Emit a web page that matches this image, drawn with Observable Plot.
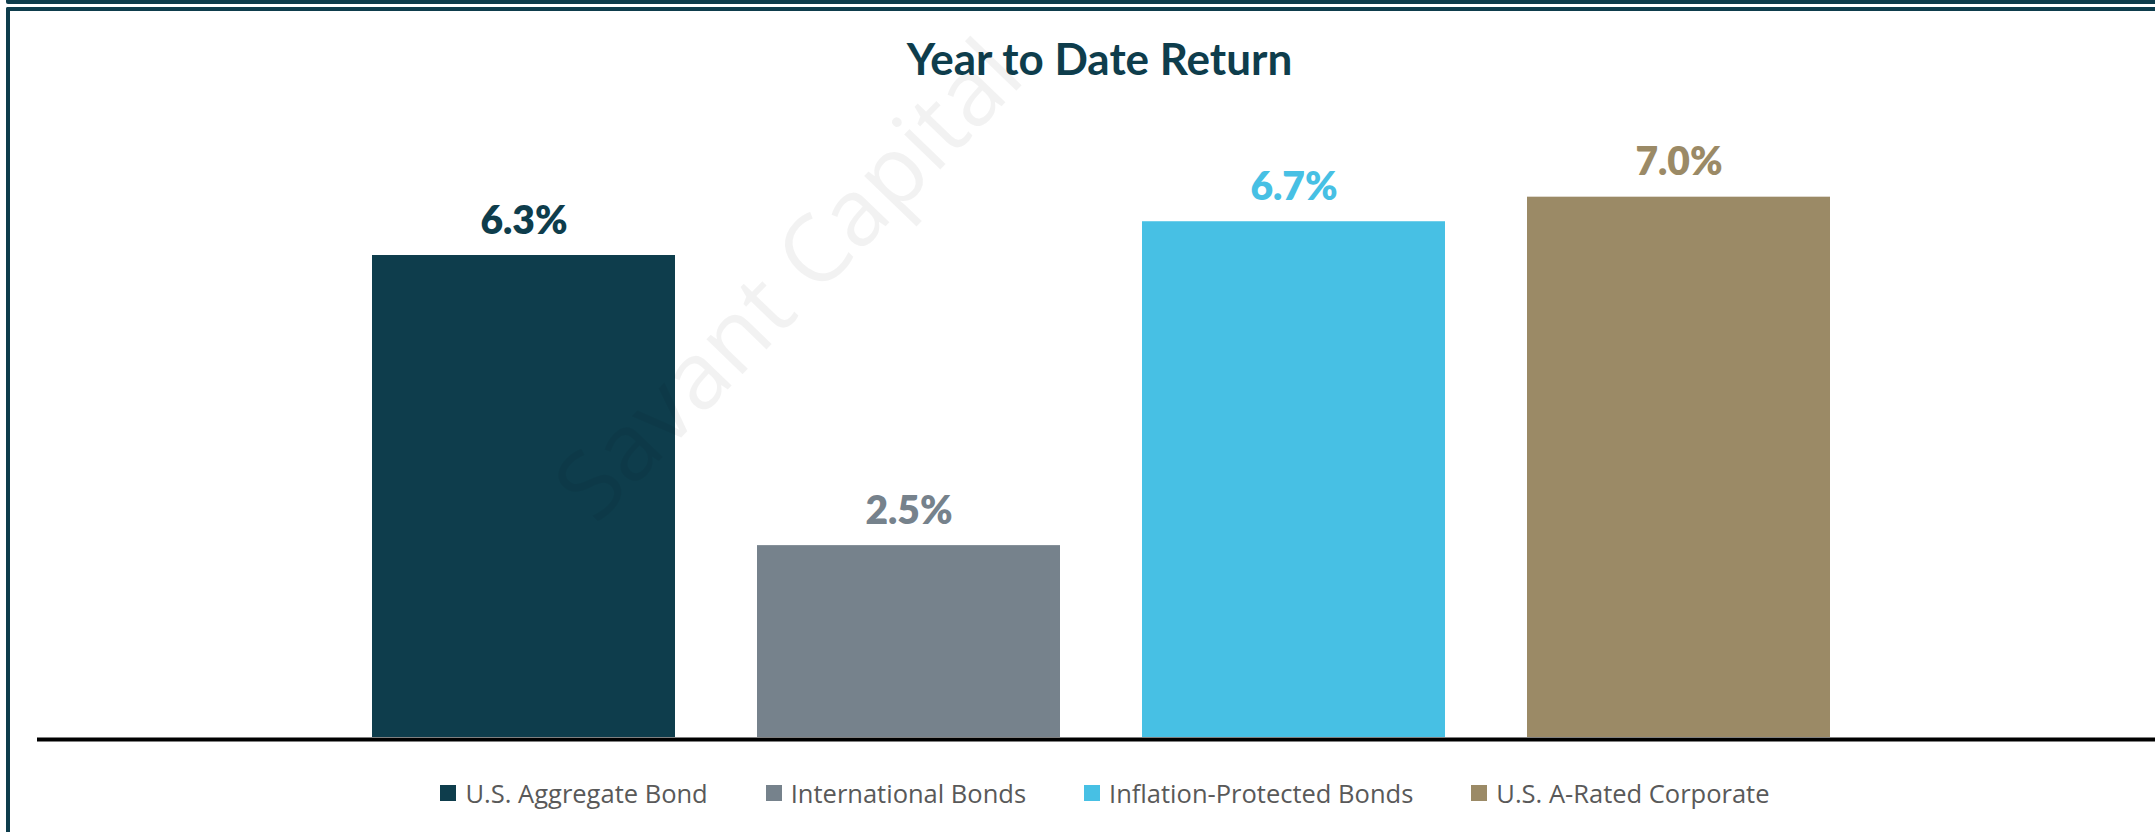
<!DOCTYPE html>
<html>
<head>
<meta charset="utf-8">
<script src="https://cdn.jsdelivr.net/npm/d3@7"></script>
<script src="https://cdn.jsdelivr.net/npm/@observablehq/plot@0.6"></script>
<style>
  html, body { margin: 0; padding: 0; background: #fff; }
  body { width: 2155px; height: 832px; position: relative; overflow: hidden; }
  #topline { position: absolute; left: 6px; right: 0; top: 0; height: 4px; background: #0e3d4c; border-bottom-left-radius: 2px; }
  #frame { position: absolute; left: 6px; right: 0; top: 7px; bottom: 0; border-top: 4px solid #0e3d4c; border-left: 4px solid #0e3d4c; border-top-left-radius: 2px; }
  #title { position: absolute; left: 44px; width: 2111px; top: 0; height: 105px; box-sizing: border-box;
           padding-top: 36px; text-align: center; font-family: Lato, sans-serif; font-weight: 700;
           font-size: 44px; line-height: 44px; color: #0e3d4c; }
  #chart { position: absolute; left: 0; top: 105px; }
  #legend { position: absolute; left: 55px; width: 2100px; top: 773px; height: 40px; }
  #legend .lg-swatches { display: flex; justify-content: center; align-items: center; height: 40px; min-height: 40px;
           margin: 0; font-family: "Open Sans", sans-serif; font-size: 25.5px; color: #595959; }
  #legend .lg-swatch { margin-right: 58px !important; display: inline-flex; align-items: center; }
  #legend .lg-swatch:last-child { margin-right: 0 !important; }
  #legend .lg-swatch > svg { margin-right: 9px !important; }
  #wm { position: absolute; left: 0; top: 0; pointer-events: none; }
</style>
</head>
<body>
<div id="topline"></div>
<div id="frame"></div>
<div id="title">Year to Date Return</div>
<div id="chart"></div>
<div id="legend"></div>
<svg id="wm" width="2155" height="832"><text id="wmtext" x="596" y="526" transform="rotate(-46 596 526)"
  font-family="Open Sans" font-size="94" fill="#000" fill-opacity="0.05">Savant Capital</text></svg>
<script>
// Data
const categories = ["U.S. Aggregate Bond", "International Bonds", "Inflation-Protected Bonds", "U.S. A-Rated Corporate"];
const values = [6.28, 2.50, 6.72, 7.04];
const colors = ["#0e3d4c", "#76828c", "#47c0e4", "#9b8a66"];

const data = categories.map((name, i) => ({name, value: values[i]}));

const chart = Plot.plot({
  width: 2155,
  height: 642,
  marginTop: 18,
  marginBottom: 10,
  marginLeft: 37,
  marginRight: 0,
  style: {fontFamily: "Lato, sans-serif", background: "transparent", overflow: "visible"},
  x: {domain: categories, range: [331, 1871], paddingInner: 0.213, paddingOuter: 0.1065, axis: null},
  y: {domain: [0, 8], axis: null},
  color: {type: "ordinal", domain: categories, range: colors},
  marks: [
    Plot.barY(data, {x: "name", y: "value", fill: "name"}),
    Plot.text(data, {
      x: "name", y: "value", text: d => d.value.toFixed(1) + "%",
      fill: "name", fontSize: 39, fontWeight: 800, lineAnchor: "bottom", dy: -22
    }),
    Plot.ruleY([0], {stroke: "#000", strokeWidth: 4, dy: 2})
  ]
});
document.getElementById("chart").appendChild(chart);

const legend = chart.legend("color", {legend: "swatches", swatchSize: 16, className: "lg"});
document.getElementById("legend").appendChild(legend);
</script>
</body>
</html>
